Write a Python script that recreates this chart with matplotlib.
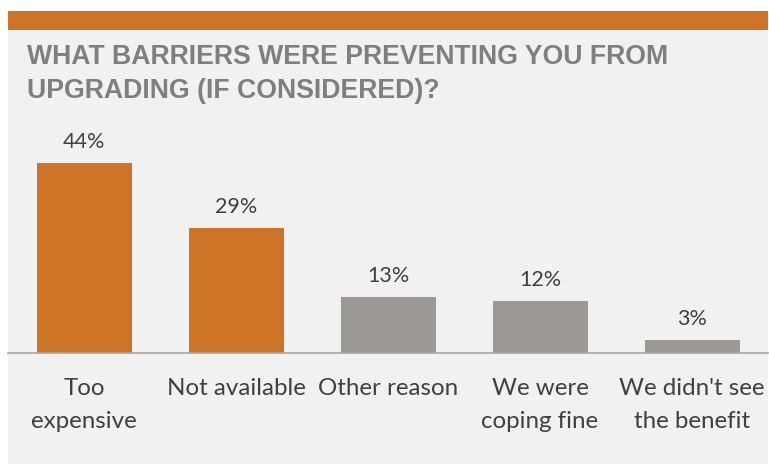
import matplotlib
matplotlib.use("Agg")
import matplotlib.pyplot as plt
from matplotlib.patches import Rectangle

categories = ["Too\nexpensive", "Not available", "Other reason", "We were\ncoping fine", "We didn't see\nthe benefit"]
values = [44, 29, 13, 12, 3]
value_labels = ["44%", "29%", "13%", "12%", "3%"]
highlight = [True, True, False, False, False]

ORANGE = "#CD7427"
GRAY = "#9C9894"
BG = "#F1F1F1"
TXT = "#404040"

W, H = 769, 465
fig = plt.figure(figsize=(W / 100, H / 100), dpi=100, facecolor="white")

# panel background and top band
fig.patches.append(Rectangle((8 / W, 1 / H), 760 / W, (H - 11 - 1) / H,
                             transform=fig.transFigure, facecolor=BG, edgecolor="none", zorder=-10))
fig.patches.append(Rectangle((8 / W, (H - 30) / H), 760 / W, 19 / H,
                             transform=fig.transFigure, facecolor=ORANGE, edgecolor="none", zorder=-9))

fig.text(27 / W, (H - 44) / H, "WHAT BARRIERS WERE PREVENTING YOU FROM\nUPGRADING (IF CONSIDERED)?",
         ha="left", va="top", fontsize=19.2, fontweight="bold", color="#7F7F7F",
         family="Liberation Sans", linespacing=1.42)

ax_bottom = (H - 353) / H
ax_top = (H - 30) / H
ax = fig.add_axes([8 / W, ax_bottom, 760 / W, ax_top - ax_bottom])
ax.set_facecolor("none")
ax.set_xlim(-0.5, len(values) - 0.5)
ax.set_ylim(0, 44 * 323 / 190)

x = list(range(len(values)))
colors = [ORANGE if h else GRAY for h in highlight]
ax.bar(x, values, width=0.625, color=colors, zorder=2)

for xi, v, lab in zip(x, values, value_labels):
    ax.annotate(lab, (xi, v), xytext=(0, 8), textcoords="offset points",
                ha="center", va="bottom", fontsize=15.5, color=TXT, family="Lato")

for s in ["top", "right", "left"]:
    ax.spines[s].set_visible(False)
ax.spines["bottom"].set_color("#A6A6A6")
ax.spines["bottom"].set_linewidth(1.2)
ax.set_yticks([])
ax.set_xticks(x)
ax.set_xticklabels(categories, fontsize=17.4, color=TXT, family="Lato", linespacing=1.7)
ax.tick_params(axis="x", length=0, pad=18)

fig.savefig("out.png", dpi=100, facecolor="white")
